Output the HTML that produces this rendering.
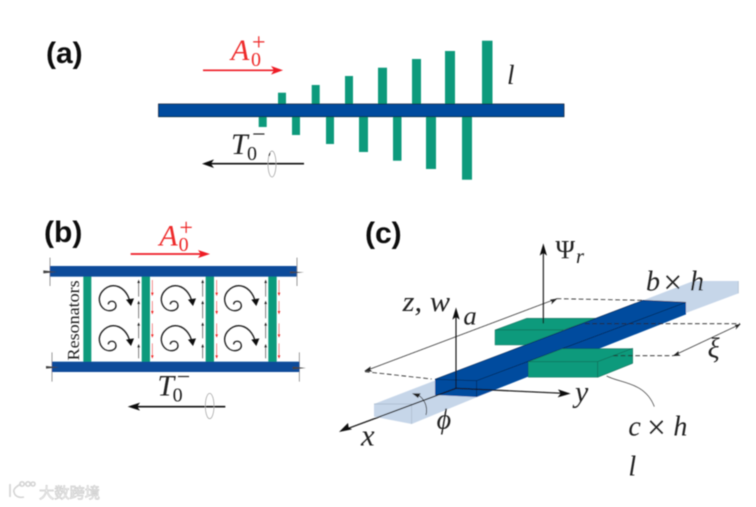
<!DOCTYPE html>
<html><head><meta charset="utf-8">
<style>
html,body{margin:0;padding:0;background:#fff;width:756px;height:507px;overflow:hidden}
svg{display:block}
.m{font-family:"Liberation Serif",serif;font-style:italic;fill:#222}
.r{font-family:"Liberation Serif",serif;fill:#222}
.b{font-family:"Liberation Sans",sans-serif;font-weight:bold;fill:#111;font-size:30px}
</style></head><body>
<svg width="756" height="507" viewBox="0 0 756 507" xmlns="http://www.w3.org/2000/svg">
<defs>
<filter id="bl" x="-5%" y="-5%" width="110%" height="110%"><feGaussianBlur stdDeviation="0.4"/></filter>
<g id="sp"><path d="M235 268C235 255 258 255 258 272C258 290 225 295 212 270C198 240 225 212 250 212C275 212 295 235 300 262" fill="none" stroke="#1a1a1a" stroke-width="4"/><path d="M288 254L312 250L303 273Z" fill="#111"/></g>
<g id="ba" fill="none" stroke="#444" stroke-width="2">
<path d="M326 245V198M326 310V260M326 370V325M326 430V390"/>
<path d="M326 194l-4 10h8zM326 257l-4 10h8zM326 322l-4 10h8zM326 387l-4 10h8z" fill="#222" stroke="none"/>
</g>
<g id="ra" fill="none" stroke="#e55" stroke-width="2">
<path d="M367 195V238M367 258V293M367 325V363M367 385V426"/>
<path d="M367 243l-4 -10h8zM367 298l-4 -10h8zM367 368l-4 -10h8zM367 431l-4 -10h8z" fill="#e22" stroke="none"/>
</g>
</defs>
<g filter="url(#bl)">
<text class="b" x="46" y="63">(a)</text>
<text class="b" x="44" y="242">(b)</text>
<text class="b" x="365" y="243">(c)</text>

<!-- panel a -->
<g fill="#0f9a7c">
<rect x="278" y="92.7" width="8" height="12"/>
<rect x="311.7" y="85" width="8" height="20"/>
<rect x="345" y="76" width="8" height="29"/>
<rect x="378" y="67.7" width="9" height="37"/>
<rect x="412" y="59" width="9" height="46"/>
<rect x="445" y="51" width="10" height="54"/>
<rect x="482" y="40.7" width="10.5" height="64"/>
<rect x="258.7" y="116" width="8" height="11"/>
<rect x="292" y="116" width="8" height="19"/>
<rect x="326" y="116" width="8" height="28"/>
<rect x="359" y="116" width="9" height="36"/>
<rect x="393" y="116" width="8.5" height="44.7"/>
<rect x="426" y="116" width="10" height="53"/>
<rect x="462" y="116" width="10" height="63.7"/>
</g>
<rect x="158.5" y="104" width="405.5" height="12.7" fill="#004c9e" stroke="#123" stroke-width=".8"/>
<path d="M203 70.3H276" stroke="#ee1c25" stroke-width="1.6"/><path d="M283 70.3L271 66L274 70.3L271 74.6Z" fill="#ee1c25"/>
<path d="M304 163.7H210" stroke="#111" stroke-width="1.6"/><path d="M202 163.7L214 159.4L211 163.7L214 168Z" fill="#111"/>
<ellipse cx="272" cy="164" rx="4" ry="13" fill="none" stroke="#999" stroke-width=".7"/>
<path d="M270 153l-1 3" stroke="#222" stroke-width="1"/>
<text class="m" x="231" y="60" font-size="30" style="fill:#ee2a2a">A</text>
<text class="r" x="251" y="66" font-size="20" style="fill:#ee2a2a">0</text>
<text class="r" x="252" y="50" font-size="24" style="fill:#ee2a2a">+</text>
<text class="m" x="231" y="154" font-size="30">T</text>
<text class="r" x="247" y="160" font-size="20">0</text>
<text class="r" x="252" y="142" font-size="24">−</text>
<text class="m" x="507" y="84" font-size="27">l</text>

<!-- panel b -->
<g transform="translate(30 215) scale(.33333)">
<g stroke="#777" stroke-width="2.2" fill="none"><path d="M60 128V213M801 128V213M66 412V500M808 412V500"/></g>
<g fill="#0f9a7c">
<rect x="160" y="180" width="24" height="265"/>
<rect x="335" y="180" width="25" height="265"/>
<rect x="527" y="180" width="25" height="265"/>
<rect x="715" y="180" width="25" height="265"/>
</g>
<rect x="60" y="153" width="740" height="32" fill="#0a4c9a"/>
<rect x="66" y="440" width="742" height="31" fill="#0a4c9a"/>
<path d="M40 166L82 171L40 175Z M780 169L822 172L780 175Z M48 453L88 457L48 461Z M788 455L828 459L788 463Z" fill="#444"/>
<use href="#sp"/><use href="#sp" x="186"/><use href="#sp" x="376"/>
<use href="#sp" y="120"/><use href="#sp" x="186" y="120"/><use href="#sp" x="376" y="120"/>
<use href="#ba"/><use href="#ba" x="192"/><use href="#ba" x="381"/>
<use href="#ra"/><use href="#ra" x="193"/><use href="#ra" x="380"/>
<text class="r" transform="translate(147 436) rotate(-90)" font-size="52" textLength="240" lengthAdjust="spacingAndGlyphs">Resonators</text>
<path d="M302 117H525" stroke="#ee1c25" stroke-width="5"/><path d="M540 117L504 105L512 117L504 129Z" fill="#ee1c25"/>
<path d="M586 575H318" stroke="#111" stroke-width="5"/><path d="M293 575L330 563L322 575L330 587Z" fill="#111"/>
<ellipse cx="539" cy="573" rx="13" ry="38" fill="none" stroke="#999" stroke-width="2"/>
<text class="m" x="388" y="92" font-size="90" style="fill:#ee2a2a">A</text>
<text class="r" x="446" y="108" font-size="60" style="fill:#ee2a2a">0</text>
<text class="r" x="448" y="62" font-size="72" style="fill:#ee2a2a">+</text>
<text class="m" x="382" y="542" font-size="90">T</text>
<text class="r" x="428" y="560" font-size="60">0</text>
<text class="r" x="440" y="508" font-size="72">−</text>
</g>

<!-- panel c -->
<g transform="translate(330 225) scale(.33333)">
<path d="M132 537L1090 168H1225V205L1065 265L590 455L245 597L132 575Z" fill="#c6d6e9"/>
<path d="M132 537H245V597M1225 168V205" fill="none" stroke="#a9b9c9" stroke-width="2"/>
<path d="M495 315L590 280H800L700 315Z" fill="#0f9a7c" stroke="#0a5a48" stroke-width="1.5"/>
<rect x="495" y="315" width="205" height="45" fill="#0f9a7c" stroke="#0a5a48" stroke-width="1"/>
<path d="M315 463L940 226L1068 232V268L440 516L315 510Z" fill="#004c9e"/>
<path d="M315 463L440 467L1068 232M440 467V516M315 463L940 226L1068 232" fill="none" stroke="#0a2450" stroke-width="2"/>
<path d="M595 410L697 371H908L803 410Z" fill="#0f9a7c" stroke="#0a5a48" stroke-width="1.5"/>
<rect x="595" y="410" width="208" height="47" fill="#0f9a7c" stroke="#0a5a48" stroke-width="1"/>
<path d="M803 410L908 370V415L803 457Z" fill="#0f9a7c" stroke="#0a5a48" stroke-width="1.5"/>
<g fill="none" stroke="#222" stroke-width="2.4" stroke-dasharray="14 8">
<path d="M105 440L305 462M680 221L940 226M765 296H1230M850 392H1030"/>
</g>
<path d="M105 438L680 221M1030 392L1230 298" stroke="#222" stroke-width="2.2" fill="none"/>
<path d="M103 438L122 424L120 434L127 440Z M682 221L660 224L666 230L664 238Z M1028 393L1046 378L1045 387L1052 392Z M1232 297L1214 300L1219 306L1217 314Z" fill="#222"/>
<path d="M640 295V75" stroke="#111" stroke-width="3.4"/><path d="M640 55L629 92L640 84L651 92Z" fill="#111"/>
<path d="M378 490V265" stroke="#111" stroke-width="3.4"/><path d="M378 247L367 284L378 276L389 284Z" fill="#111"/>
<path d="M378 490L700 505" stroke="#111" stroke-width="3.6"/><path d="M722 506L684 493L692 505L683 517Z" fill="#111"/>
<path d="M378 490L50 612" stroke="#111" stroke-width="3.6"/><path d="M27 621L66 613L56 607L54 594Z" fill="#111"/>
<path d="M288 570C294 545 284 522 262 508" fill="none" stroke="#222" stroke-width="2.4"/><path d="M246 505L272 505L264 519Z" fill="#222"/>
<path d="M830 453C870 475 945 470 973 545" fill="none" stroke="#444" stroke-width="2.2"/>
<text class="m" x="218" y="258" font-size="84" textLength="142" lengthAdjust="spacingAndGlyphs">z, w</text>
<text class="m" x="400" y="298" font-size="80">a</text>
<text class="r" x="676" y="100" font-size="80">Ψ</text><text class="m" x="738" y="114" font-size="62">r</text>
<text class="m" x="948" y="197" font-size="84">b</text><text class="r" x="1000" y="205" font-size="100">×</text><text class="m" x="1080" y="197" font-size="84">h</text>
<text class="m" x="1133" y="398" font-size="84">ξ</text>
<text class="m" x="735" y="530" font-size="90">y</text>
<text class="m" x="93" y="662" font-size="92">x</text>
<text class="m" x="320" y="610" font-size="84">ϕ</text>
<text class="m" x="895" y="632" font-size="84">c</text><text class="r" x="951" y="640" font-size="100">×</text><text class="m" x="1030" y="632" font-size="84">h</text>
<text class="m" x="895" y="752" font-size="84">l</text>
</g>

<!-- watermark -->
<g fill="none" stroke="#d4d4d4" stroke-width="1.6">
<path d="M10 484V497M21 484C15 487 13 490 14 492C15 497 20 498 24 497"/>
<circle cx="22" cy="484" r="2.2"/><circle cx="28" cy="484" r="2.2"/><circle cx="33" cy="484" r="2"/>
</g>
<text x="39" y="498" font-size="15" textLength="61" lengthAdjust="spacingAndGlyphs" fill="#fff" stroke="#cfcfcf" stroke-width=".7" style="font-family:'Liberation Sans','Noto Sans CJK SC',sans-serif">大数跨境</text>
</g>
</svg>
</body></html>
